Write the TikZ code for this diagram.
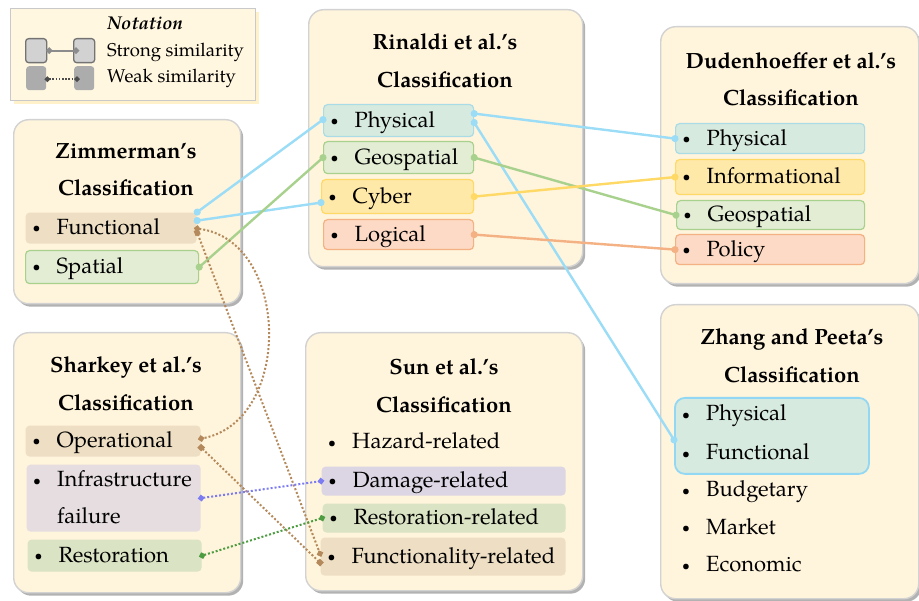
\documentclass[tikz,border=0pt]{standalone}
\usepackage{fontspec}
\setmainfont{TeX Gyre Pagella}
\usetikzlibrary{arrows.meta,shadows}
\definecolor{boxfill}{HTML}{FFF4DC}
\definecolor{boxline}{HTML}{D2D2D2}
\definecolor{notfill}{HTML}{FFF7E0}
\definecolor{notline}{HTML}{C9C9C9}
\definecolor{tealfill}{HTML}{D7EADF}
\definecolor{tealline}{HTML}{A9DCE6}
\definecolor{cyanline}{HTML}{9BDCF6}
\definecolor{cyanbox}{HTML}{92D8F4}
\definecolor{greenfill}{HTML}{E2EDD3}
\definecolor{greenline}{HTML}{A9D18E}
\definecolor{yellowfill}{HTML}{FFE9A9}
\definecolor{yellowline}{HTML}{FFD966}
\definecolor{orangefill}{HTML}{FDDAC5}
\definecolor{orangeline}{HTML}{F4B183}
\definecolor{tanfill}{HTML}{EEDFC4}
\definecolor{tanline}{HTML}{B48A5C}
\definecolor{lavfill}{HTML}{E6DDE1}
\definecolor{damfill}{HTML}{DCD5E3}
\definecolor{olivefill}{HTML}{DAE3C3}
\definecolor{bluedot}{HTML}{7C7CF2}
\definecolor{greendot}{HTML}{4E9C42}
\newcommand\itemfont{\fontsize{22}{26}\selectfont}
\newcommand\notfont{\fontsize{18.5}{22}\selectfont}
\newcommand\mybul{\makebox[26pt][l]{\hspace{2pt}\raisebox{1.8pt}{\fontsize{14}{14}\selectfont\textbullet}}}
\begin{document}
\begin{tikzpicture}[x=1pt,y=-1pt,
  cls/.style={anchor=north west, draw=boxline, line width=1.4pt, fill=boxfill, rounded corners=15pt,
    drop shadow={shadow xshift=2.5pt, shadow yshift=-3pt, opacity=0.3, fill=black}},
  itm/.style={anchor=north west, rounded corners=4pt, line width=1.2pt, inner xsep=5pt, inner ysep=0pt,
    text height=16pt, text depth=3pt, align=left, font=\itemfont},
  txt/.style={anchor=base west, inner sep=0pt, font=\itemfont},
  ttl/.style={anchor=base, inner sep=0pt, font=\itemfont\bfseries},
  strong/.style={line width=2.4pt, {Circle[length=7pt]}-{Circle[length=7pt]}, shorten <=-3.5pt, shorten >=-3.5pt},
  weak/.style={line width=2pt, dash pattern=on 2pt off 2pt},
  wdd/.style={weak, {Diamond[length=7pt,width=7pt]}-{Diamond[length=7pt,width=7pt]}, shorten <=-3.5pt, shorten >=-3.5pt},
  wss/.style={weak, {Square[length=5.5pt,width=5.5pt]}-{Square[length=5.5pt,width=5.5pt]}, shorten <=-2.75pt, shorten >=-2.75pt},
  wsd/.style={weak, {Square[length=5.5pt,width=5.5pt]}-{Diamond[length=7pt,width=7pt]}, shorten <=-2.75pt, shorten >=-3.5pt},
]
\useasboundingbox (0,0) rectangle (919,601);

% ---------- Notation ----------
\node[anchor=north west, draw=notline, fill=notfill, line width=1.2pt, minimum width=245pt, minimum height=92pt,
  drop shadow={shadow xshift=3pt, shadow yshift=-3pt, opacity=0.35, fill=yellowline}] (notbox) at (10,8) {};
\node[anchor=base, inner sep=0pt, font=\notfont\bfseries\itshape] (nottitle) at (145,30) {Notation};
\node[anchor=base west, inner sep=0pt, font=\notfont] (nstrong) at (107,57) {Strong similarity};
\node[anchor=base west, inner sep=0pt, font=\notfont] (nweak) at (107,83) {Weak similarity};
\node[anchor=north west, draw=gray!90!black, fill=gray!35, line width=1.3pt, rounded corners=3pt, minimum width=21pt, minimum height=24pt] (nsa) at (25,38) {};
\node[anchor=north west, draw=gray!90!black, fill=gray!35, line width=1.3pt, rounded corners=3pt, minimum width=21pt, minimum height=24pt] (nsb) at (73,38) {};
\node[anchor=north west, fill=gray!65, rounded corners=3pt, minimum width=20pt, minimum height=24pt] (nwa) at (26,66) {};
\node[anchor=north west, fill=gray!65, rounded corners=3pt, minimum width=20pt, minimum height=24pt] (nwb) at (74,66) {};
\draw[line width=2.2pt, gray!110!black, {Circle[length=6pt]}-{Circle[length=6pt]}, shorten <=-3pt, shorten >=-3pt]
  ([xshift=2pt]nsa.east) -- ([xshift=3pt]nsb.west);
\draw[line width=1.6pt, dash pattern=on 1.6pt off 1.6pt, black!70, {Diamond[length=6pt,width=6pt]}-{Diamond[length=6pt,width=6pt]}, shorten <=-3pt, shorten >=-3pt]
  ([xshift=1pt,yshift=-1pt]nwa.east) -- ([xshift=3pt,yshift=-1pt]nwb.west);

% ---------- Zimmerman ----------
\node[cls, minimum width=227pt, minimum height=184pt] (zim) at (13,119) {};
\node[ttl] (zimt1) at (126,159) {Zimmerman’s};
\node[ttl] (zimt2) at (126,196) {Classification};
\node[itm, fill=tanfill, text width=161pt, minimum height=31pt] (zfun) at (25,212) {\mybul Functional};
\node[itm, fill=greenfill, draw=greenline, text width=163pt, minimum height=33pt] (zspa) at (25,250) {\mybul Spatial};

% ---------- Sharkey ----------
\node[cls, minimum width=227pt, minimum height=260pt] (shk) at (13,332) {};
\node[ttl] (shkt1) at (126,373) {Sharkey et al.’s};
\node[ttl] (shkt2) at (126,411) {Classification};
\node[itm, fill=tanfill, text width=165pt, minimum height=31pt] (sop) at (25,425) {\mybul Operational};
\node[itm, fill=lavfill, minimum width=174pt, minimum height=67pt] (sinf) at (26,464) {};
\node[txt] (sinft1) at (31,487) {\mybul Infrastructure};
\node[txt] (sinft2) at (57,523) {failure};
\node[itm, fill=olivefill, text width=164pt, minimum height=32pt] (sres) at (27,539) {\mybul Restoration};

% ---------- Rinaldi ----------
\node[cls, minimum width=274pt, minimum height=257pt] (rin) at (308,9) {};
\node[ttl] (rint1) at (445,50) {Rinaldi et al.’s};
\node[ttl] (rint2) at (445,88) {Classification};
\node[itm, fill=tealfill, draw=tealline, text width=140pt, minimum height=32pt] (rphy) at (323,104) {\mybul Physical};
\node[itm, fill=greenfill, draw=greenline, text width=140pt, minimum height=32pt] (rgeo) at (323,141) {\mybul Geospatial};
\node[itm, fill=yellowfill, draw=yellowline, text width=142pt, minimum height=34pt] (rcyb) at (321,179) {\mybul Cyber};
\node[itm, fill=orangefill, draw=orangeline, text width=140pt, minimum height=30pt] (rlog) at (323,219) {\mybul Logical};

% ---------- Sun ----------
\node[cls, minimum width=277pt, minimum height=258pt] (sun) at (305,332) {};
\node[ttl] (sunt1) at (444,375) {Sun et al.’s};
\node[ttl] (sunt2) at (444,413) {Classification};
\node[txt] (shaz) at (326,449) {\mybul Hazard-related};
\node[itm, fill=damfill, text width=234pt, minimum height=29pt] (sdam) at (321,466) {\mybul Damage-related};
\node[itm, fill=olivefill, text width=233pt, minimum height=29pt] (sunres) at (322,503) {\mybul Restoration-related};
\node[itm, fill=tanfill, text width=235pt, minimum height=38pt] (sfun) at (320,537) {\mybul Functionality-related};

% ---------- Dudenhoeffer ----------
\node[cls, minimum width=258pt, minimum height=257pt] (dud) at (660,26) {};
\node[ttl] (dudt1) at (791,69) {Dudenhoeffer et al.’s};
\node[ttl] (dudt2) at (791,106) {Classification};
\node[itm, fill=tealfill, draw=tealline, text width=179pt, minimum height=30pt] (dphy) at (675,123) {\mybul Physical};
\node[itm, fill=yellowfill, draw=yellowline, text width=179pt, minimum height=35pt] (dinf) at (675,159) {\mybul Informational};
\node[itm, fill=greenfill, draw=greenline, text width=178pt, minimum height=29pt] (dgeo) at (676,200) {\mybul Geospatial};
\node[itm, fill=orangefill, draw=orangeline, text width=179pt, minimum height=30pt] (dpol) at (675,234) {\mybul Policy};

% ---------- Zhang and Peeta ----------
\node[cls, minimum width=258pt, minimum height=294pt] (zha) at (660,304) {};
\node[ttl] (zhat1) at (792,345) {Zhang and Peeta’s};
\node[ttl] (zhat2) at (792,383) {Classification};
\node[itm, fill=tealfill, draw=cyanbox, line width=1.8pt, rounded corners=10pt, minimum width=194pt, minimum height=76pt] (zhl) at (674,397) {};
\node[txt] (zphy) at (680,421) {\mybul Physical};
\node[txt] (zfnc) at (680,460) {\mybul Functional};
\node[txt] (zbud) at (680,497) {\mybul Budgetary};
\node[txt] (zmar) at (680,534) {\mybul Market};
\node[txt] (zeco) at (680,572) {\mybul Economic};

% ---------- Strong similarity connectors ----------
\draw[strong, cyanline] ([yshift=16pt]zfun.east) -- ([yshift=1pt]rphy.west);
\draw[strong, cyanline] ([yshift=7.5pt]zfun.east) -- ([yshift=-6pt]rcyb.west);
\draw[strong, greenline] (zspa.east) -- (rgeo.west);
\draw[strong, cyanline] ([yshift=7pt]rphy.east) -- (dphy.west);
\draw[strong, cyanline] ([yshift=-2pt]rphy.east) -- ([yshift=-4pt]zhl.west);
\draw[strong, greenline] (rgeo.east) -- (dgeo.west);
\draw[strong, yellowline] (rcyb.east) -- (dinf.west);
\draw[strong, orangeline] (rlog.east) -- (dpol.west);

% ---------- Weak similarity connectors ----------
\draw[wdd, tanline] ([yshift=-0.5pt]zfun.east) .. controls +(93,12) and +(92,-18) .. ([yshift=2.5pt]sop.east);
\draw[wsd, tanline] ([yshift=-4.5pt]zfun.east) -- ([yshift=3pt]sfun.west);
\draw[wss, tanline] ([yshift=-6.5pt]sop.east) -- ([yshift=-6pt]sfun.west);
\draw[wdd, bluedot] (sinf.east) -- (sdam.west);
\draw[wdd, greendot] (sres.east) -- (sunres.west);
\end{tikzpicture}
\end{document}
